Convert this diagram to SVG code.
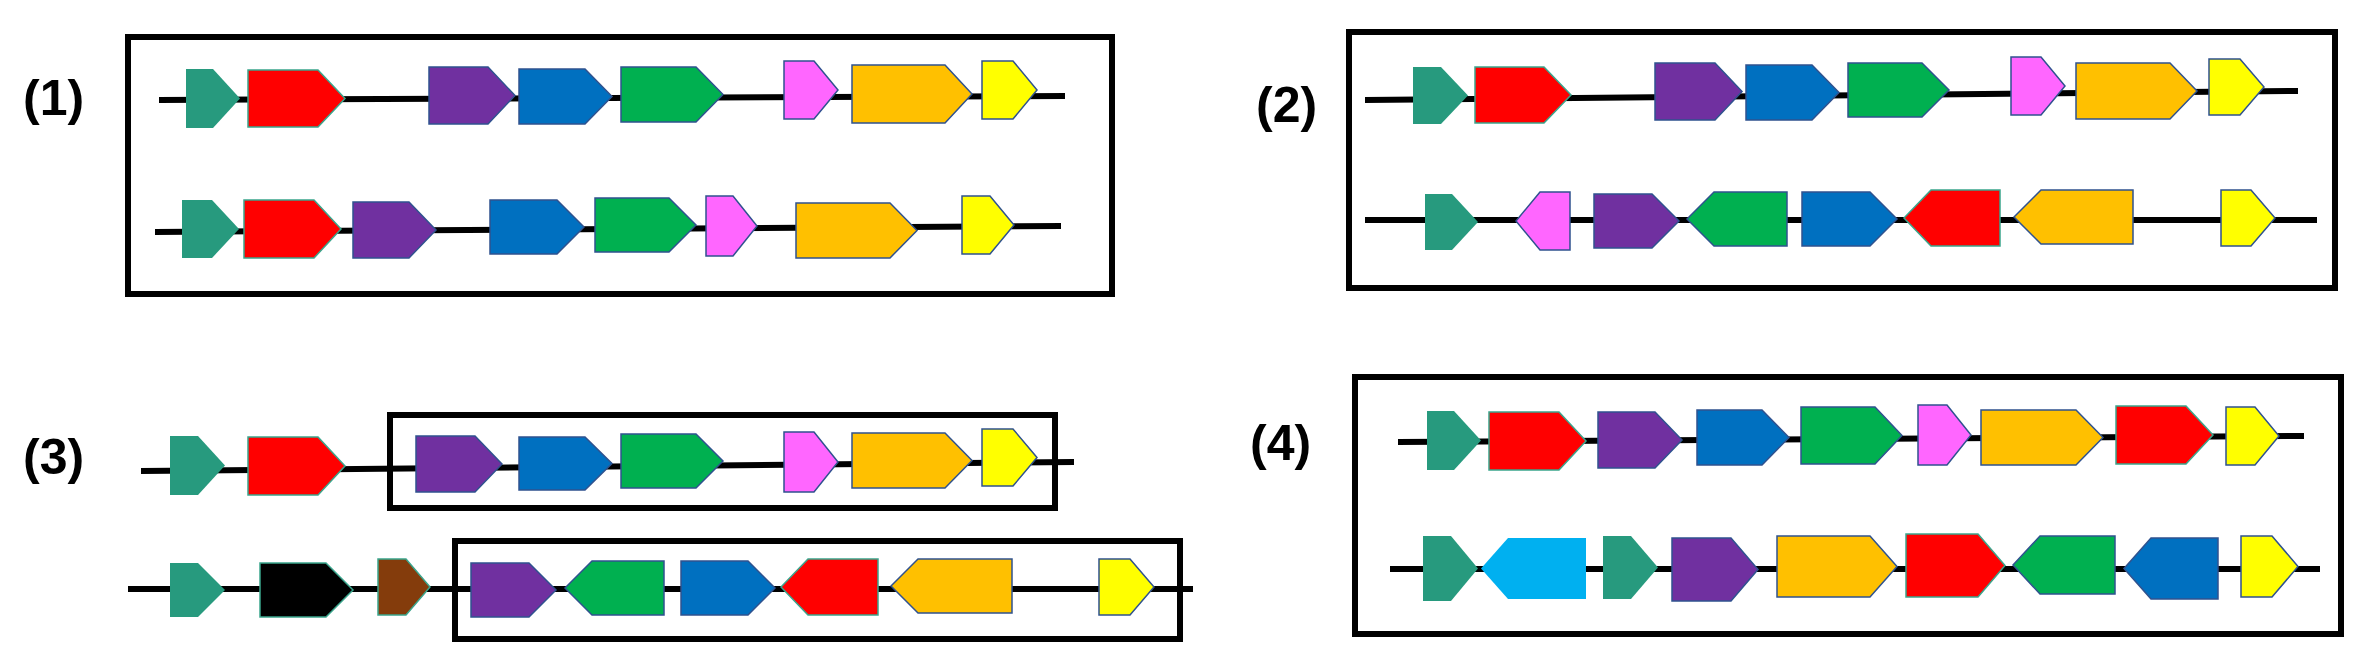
<svg xmlns="http://www.w3.org/2000/svg" width="2368" height="669" viewBox="0 0 2368 669">
<style>
.lbl{font-family:"Liberation Sans",Arial,sans-serif;font-weight:bold;font-size:50px;fill:#000}
.box{fill:none;stroke:#000;stroke-width:6}
.dna{stroke:#000;stroke-width:6;fill:none}
.g{stroke:#2f528f;stroke-width:1.5}
.gt{stroke:#3aa58c;stroke-width:1.5}
.teal{fill:#279a7e}.red{fill:#ff0000}.pur{fill:#7030a0}.blu{fill:#0070c0}.grn{fill:#00b050}.pnk{fill:#ff66ff}.org{fill:#ffc000}.yel{fill:#ffff00}.lbl2{fill:#00b0f0}.brn{fill:#843c0c}.blk{fill:#000}
</style>
<rect width="2368" height="669" fill="#fff"/>
<g id="labels">
<text class="lbl" x="23" y="115">(1)</text>
<text class="lbl" x="1256" y="122">(2)</text>
<text class="lbl" x="23" y="474">(3)</text>
<text class="lbl" x="1250" y="460">(4)</text>
</g>
<g id="connectors">
<rect class="box" x="128" y="37" width="984" height="257"/>
<rect class="box" x="1349" y="32" width="986" height="256"/>
<rect class="box" x="390" y="415" width="665" height="93"/>
<rect class="box" x="455" y="541" width="725" height="98"/>
<rect class="box" x="1355" y="377" width="986" height="257"/>
<line class="dna" x1="159" y1="100" x2="1065" y2="96"/>
<line class="dna" x1="155" y1="232" x2="1061" y2="226"/>
<line class="dna" x1="1365" y1="100" x2="2298" y2="91"/>
<line class="dna" x1="1365" y1="220" x2="2317" y2="220"/>
<line class="dna" x1="141" y1="471" x2="1074" y2="462"/>
<line class="dna" x1="128" y1="589" x2="1193" y2="589"/>
<line class="dna" x1="1398" y1="442" x2="2304" y2="436"/>
<line class="dna" x1="1390" y1="569" x2="2320" y2="569"/>
</g>
<g id="panel1">
<polygon class="teal" points="186,69 213,69 240,98.5 213,128 186,128"/>
<polygon class="red gt" points="248,70 318,70 345,98.5 318,127 248,127"/>
<polygon class="pur g" points="429,67 488,67 515,95.5 488,124 429,124"/>
<polygon class="blu g" points="519,69 585,69 612,96.5 585,124 519,124"/>
<polygon class="grn g" points="621,67 696,67 723,94.5 696,122 621,122"/>
<polygon class="pnk g" points="784,61 814,61 838,90 814,119 784,119"/>
<polygon class="org g" points="852,65 945,65 972,94 945,123 852,123"/>
<polygon class="yel g" points="982,61 1013,61 1037,90 1013,119 982,119"/>
<polygon class="teal" points="182,200 212,200 239,229 212,258 182,258"/>
<polygon class="red gt" points="244,200 314,200 341,229 314,258 244,258"/>
<polygon class="pur g" points="353,202 409,202 436,230 409,258 353,258"/>
<polygon class="blu g" points="490,200 557,200 584,227 557,254 490,254"/>
<polygon class="grn g" points="595,198 669,198 696,225 669,252 595,252"/>
<polygon class="pnk g" points="706,196 733,196 757,226 733,256 706,256"/>
<polygon class="org g" points="796,203 890,203 917,230.5 890,258 796,258"/>
<polygon class="yel g" points="962,196 990,196 1014,225 990,254 962,254"/>
</g>
<g id="panel2">
<polygon class="teal" points="1413,67 1441,67 1468,95.5 1441,124 1413,124"/>
<polygon class="red gt" points="1475,67 1544,67 1571,95 1544,123 1475,123"/>
<polygon class="pur g" points="1655,63 1715,63 1742,91.5 1715,120 1655,120"/>
<polygon class="blu g" points="1746,65 1812,65 1839,92.5 1812,120 1746,120"/>
<polygon class="grn g" points="1848,63 1922,63 1949,90 1922,117 1848,117"/>
<polygon class="pnk g" points="2011,57 2041,57 2065,86 2041,115 2011,115"/>
<polygon class="org g" points="2076,63 2170,63 2197,91 2170,119 2076,119"/>
<polygon class="yel g" points="2209,59 2240,59 2264,87 2240,115 2209,115"/>
<polygon class="teal" points="1425,194 1452,194 1478,222 1452,250 1425,250"/>
<polygon class="pnk g" points="1516,221 1540,192 1570,192 1570,250 1540,250"/>
<polygon class="pur g" points="1594,194 1652,194 1679,221 1652,248 1594,248"/>
<polygon class="grn g" points="1687,219 1714,192 1787,192 1787,246 1714,246"/>
<polygon class="blu g" points="1802,192 1870,192 1897,219 1870,246 1802,246"/>
<polygon class="red gt" points="1904,218 1931,190 2000,190 2000,246 1931,246"/>
<polygon class="org g" points="2014,217 2041,190 2133,190 2133,244 2041,244"/>
<polygon class="yel g" points="2221,190 2251,190 2275,218 2251,246 2221,246"/>
</g>
<g id="panel3">
<polygon class="teal" points="170,436 198,436 225,465.5 198,495 170,495"/>
<polygon class="red gt" points="248,437 318,437 345,466 318,495 248,495"/>
<polygon class="pur g" points="416,436 475,436 502,464 475,492 416,492"/>
<polygon class="blu g" points="519,437 585,437 612,463.5 585,490 519,490"/>
<polygon class="grn g" points="621,434 696,434 723,461 696,488 621,488"/>
<polygon class="pnk g" points="784,432 814,432 838,462 814,492 784,492"/>
<polygon class="org g" points="852,433 945,433 972,460.5 945,488 852,488"/>
<polygon class="yel g" points="982,429 1013,429 1037,457.5 1013,486 982,486"/>
<polygon class="teal" points="170,563 198,563 225,590 198,617 170,617"/>
<polygon class="blk gt" points="260,563 326,563 353,590 326,617 260,617"/>
<polygon class="brn gt" points="378,559 406,559 430,587 406,615 378,615"/>
<polygon class="pur g" points="471,563 529,563 556,590 529,617 471,617"/>
<polygon class="grn g" points="565,588 592,561 664,561 664,615 592,615"/>
<polygon class="blu g" points="681,561 748,561 775,588 748,615 681,615"/>
<polygon class="red gt" points="781,587 808,559 878,559 878,615 808,615"/>
<polygon class="org g" points="891,586 918,559 1012,559 1012,613 918,613"/>
<polygon class="yel g" points="1099,559 1130,559 1154,587 1130,615 1099,615"/>
</g>
<g id="panel4">
<polygon class="teal" points="1427,411 1454,411 1481,440.5 1454,470 1427,470"/>
<polygon class="red gt" points="1489,412 1559,412 1586,441 1559,470 1489,470"/>
<polygon class="pur g" points="1598,412 1655,412 1682,440 1655,468 1598,468"/>
<polygon class="blu g" points="1697,410 1762,410 1789,437.5 1762,465 1697,465"/>
<polygon class="grn g" points="1801,407 1875,407 1902,435.5 1875,464 1801,464"/>
<polygon class="pnk g" points="1918,405 1947,405 1971,435 1947,465 1918,465"/>
<polygon class="org g" points="1981,410 2076,410 2103,437.5 2076,465 1981,465"/>
<polygon class="red gt" points="2116,406 2186,406 2213,435 2186,464 2116,464"/>
<polygon class="yel g" points="2226,407 2255,407 2279,436 2255,465 2226,465"/>
<polygon class="teal" points="1423,536 1451,536 1478,568.5 1451,601 1423,601"/>
<polygon class="lbl2" points="1481,568.5 1508,538 1586,538 1586,599 1508,599"/>
<polygon class="teal" points="1603,536 1631,536 1658,567.5 1631,599 1603,599"/>
<polygon class="pur g" points="1672,538 1731,538 1758,569.5 1731,601 1672,601"/>
<polygon class="org g" points="1777,536 1870,536 1897,566.5 1870,597 1777,597"/>
<polygon class="red gt" points="1906,534 1978,534 2005,565.5 1978,597 1906,597"/>
<polygon class="grn g" points="2013,565 2040,536 2115,536 2115,594 2040,594"/>
<polygon class="blu g" points="2124,568.5 2151,538 2218,538 2218,599 2151,599"/>
<polygon class="yel g" points="2241,536 2272,536 2298,566.5 2272,597 2241,597"/>
</g>
</svg>
